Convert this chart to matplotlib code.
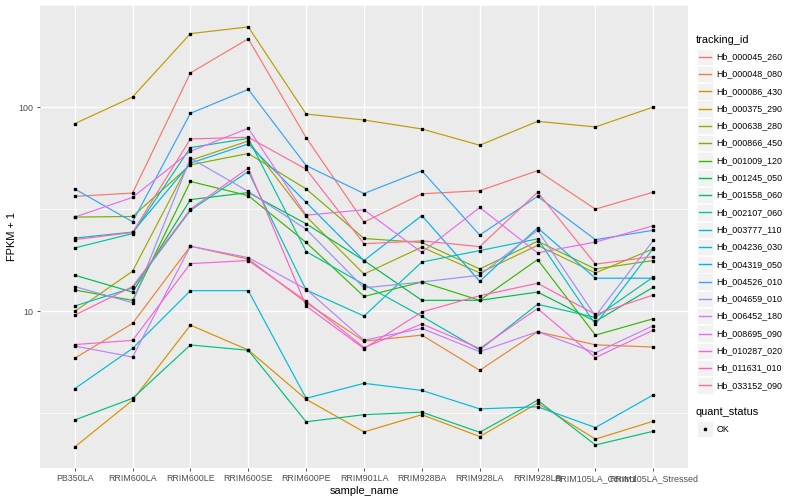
import numpy as np
import matplotlib
matplotlib.use("Agg")
import matplotlib.pyplot as plt
from matplotlib.patches import Rectangle

plt.rcParams['font.family'] = ['Liberation Sans', 'DejaVu Sans']

samples = ["PB350LA", "RRIM600LA", "RRIM600LE", "RRIM600SE", "RRIM600PE",
           "RRIM901LA", "RRIM928BA", "RRIM928LA", "RRIM928LB",
           "RRIM105LA_Control", "RRIM105LA_Stressed"]

tracking_ids = ["Hb_000045_260", "Hb_000048_080", "Hb_000086_430", "Hb_000375_290",
                "Hb_000638_280", "Hb_000866_450", "Hb_001009_120", "Hb_001245_050",
                "Hb_001558_060", "Hb_002107_060", "Hb_003777_110", "Hb_004236_030",
                "Hb_004319_050", "Hb_004526_010", "Hb_004659_010", "Hb_006452_180",
                "Hb_008695_090", "Hb_010287_020", "Hb_011631_010", "Hb_033152_090"]

# FPKM + 1, one list per tracking_id, in sample order
fpkm = {
    "Hb_000045_260": [36.5, 37.9, 147, 216, 70.8, 27.3, 37.6, 38.9, 48.8, 31.6, 38.3],
    "Hb_000048_080": [5.88, 8.71, 20.8, 18.0, 11.0, 7.13, 7.63, 5.13, 7.93, 6.84, 6.67],
    "Hb_000086_430": [2.16, 3.66, 8.54, 6.45, 3.70, 2.56, 3.11, 2.43, 3.54, 2.36, 2.89],
    "Hb_000375_290": [82.9, 112, 229, 247, 92.4, 86.4, 78.1, 65.0, 85.1, 79.9, 100],
    "Hb_000638_280": [9.97, 15.7, 54.8, 68.2, 29.1, 15.2, 20.6, 15.4, 21.0, 15.4, 20.2],
    "Hb_000866_450": [28.9, 29.1, 52.1, 59.2, 39.7, 22.7, 21.7, 16.1, 22.0, 16.1, 17.7],
    "Hb_001009_120": [12.7, 11.3, 43.2, 36.8, 21.7, 11.8, 13.9, 11.3, 17.9, 7.63, 9.18],
    "Hb_001245_050": [15.0, 12.4, 35.2, 38.1, 26.8, 17.7, 11.3, 11.3, 12.4, 8.91, 13.1],
    "Hb_001558_060": [2.93, 3.74, 6.83, 6.43, 2.87, 3.11, 3.20, 2.55, 3.66, 2.21, 2.58],
    "Hb_002107_060": [20.4, 24.0, 63.3, 70.2, 19.6, 13.5, 9.43, 6.46, 10.8, 9.32, 14.7],
    "Hb_003777_110": [10.6, 13.0, 31.2, 48.3, 12.7, 9.46, 17.4, 19.8, 22.6, 8.61, 20.3],
    "Hb_004236_030": [4.17, 6.57, 12.6, 12.6, 3.74, 4.43, 4.09, 3.32, 3.40, 2.69, 3.89],
    "Hb_004319_050": [22.8, 24.4, 53.1, 65.9, 34.1, 17.7, 29.4, 14.0, 25.6, 14.5, 14.5],
    "Hb_004526_010": [39.7, 27.4, 93.2, 122, 51.7, 37.7, 48.7, 23.6, 36.5, 22.4, 24.9],
    "Hb_004659_010": [13.2, 11.0, 56.2, 38.6, 25.2, 13.0, 13.9, 15.0, 24.9, 9.46, 22.2],
    "Hb_006452_180": [6.75, 5.96, 20.8, 18.3, 12.8, 7.21, 8.23, 6.33, 7.93, 6.25, 8.49],
    "Hb_008695_090": [28.9, 36.1, 60.7, 78.7, 29.5, 31.4, 19.4, 32.2, 19.3, 21.8, 26.2],
    "Hb_010287_020": [6.86, 7.19, 17.1, 17.7, 11.2, 6.63, 8.66, 6.57, 10.3, 5.92, 8.08],
    "Hb_011631_010": [9.56, 13.2, 31.6, 50.2, 10.6, 6.55, 9.91, 11.9, 13.7, 9.64, 12.0],
    "Hb_033152_090": [22.4, 24.3, 69.8, 71.1, 49.6, 21.4, 22.1, 20.7, 38.3, 17.0, 18.5],
}

# ggplot2 default hue palette, 20 levels
colors = ["#F8766D", "#EA8331", "#D89000", "#C09B00", "#A3A500", "#7CAE00",
          "#39B600", "#00BB4E", "#00BF7D", "#00C1A3", "#00BFC4", "#00BAE0",
          "#00B0F6", "#35A2FF", "#9590FF", "#C77CFF", "#E76BF3", "#FA62DB",
          "#FF62BC", "#FF6C91"]

fig = plt.figure(figsize=(8, 5), dpi=100)
ax = fig.add_axes([40 / 800, 32 / 500, 648 / 800, 463 / 500])
ax.set_facecolor("#EBEBEB")
for s in ax.spines.values():
    s.set_visible(False)

x = np.arange(len(samples))
for tid, col in zip(tracking_ids, colors):
    ax.plot(x, fpkm[tid], color=col, linewidth=0.85, zorder=2)
for tid in tracking_ids:
    ax.plot(x, fpkm[tid], linestyle="none", marker="s", markersize=2.1,
            color="black", zorder=3)

ax.set_yscale("log")
allv = np.concatenate([fpkm[t] for t in tracking_ids])
lo, hi = np.log10(allv.min()), np.log10(allv.max())
pad = 0.05 * (hi - lo)
ax.set_ylim(10 ** (lo - pad), 10 ** (hi + pad))
ax.set_xlim(-0.6, len(samples) - 0.4)

ax.set_yticks([10, 100])
ax.set_yticklabels(["10", "100"])
ax.set_yticks([10 ** 0.5, 10 ** 1.5, 10 ** 2.5], minor=True)
ax.yaxis.set_minor_formatter(plt.NullFormatter())
ax.set_xticks(x)
ax.set_xticklabels(samples)

ax.grid(True, which="major", color="white", linewidth=1.0, zorder=0)
ax.grid(True, which="minor", axis="y", color="white", linewidth=0.5, zorder=0)
ax.set_axisbelow(True)
ax.tick_params(which="major", length=2.5, width=0.6, color="#333333",
               labelcolor="#4D4D4D", labelsize=6.4, pad=2)
ax.tick_params(which="minor", length=0)

ax.set_xlabel("sample_name", fontsize=7.9, color="black", labelpad=2)
ax.set_ylabel("FPKM + 1", fontsize=7.9, color="black")
ax.yaxis.set_label_coords(-0.036, 0.5)

# legends, drawn in figure pixel space
lax = fig.add_axes([0, 0, 1, 1], facecolor="none")
lax.set_xlim(0, 800)
lax.set_ylim(500, 0)
lax.axis("off")

lax.text(696, 40, "tracking_id", fontsize=7.9, va="center", ha="left")
y0, step = 56.7, 17.3
for i, (tid, col) in enumerate(zip(tracking_ids, colors)):
    yc = y0 + i * step
    lax.add_patch(Rectangle((697, yc - 8.2), 16.4, 16.4, facecolor="#F2F2F2",
                            edgecolor="white", linewidth=0.5))
    lax.plot([699, 711], [yc, yc], color=col, linewidth=1.0)
    lax.text(716.5, yc, tid, fontsize=6.4, va="center", ha="left")

lax.text(696, 412, "quant_status", fontsize=7.9, va="center", ha="left")
lax.add_patch(Rectangle((697, 429 - 8.2), 16.4, 16.4, facecolor="#F2F2F2",
                        edgecolor="white", linewidth=0.5))
lax.plot([705], [429], marker="s", markersize=2.1, color="black")
lax.text(716.5, 429, "OK", fontsize=6.4, va="center", ha="left")

fig.savefig("out.png", dpi=100)
